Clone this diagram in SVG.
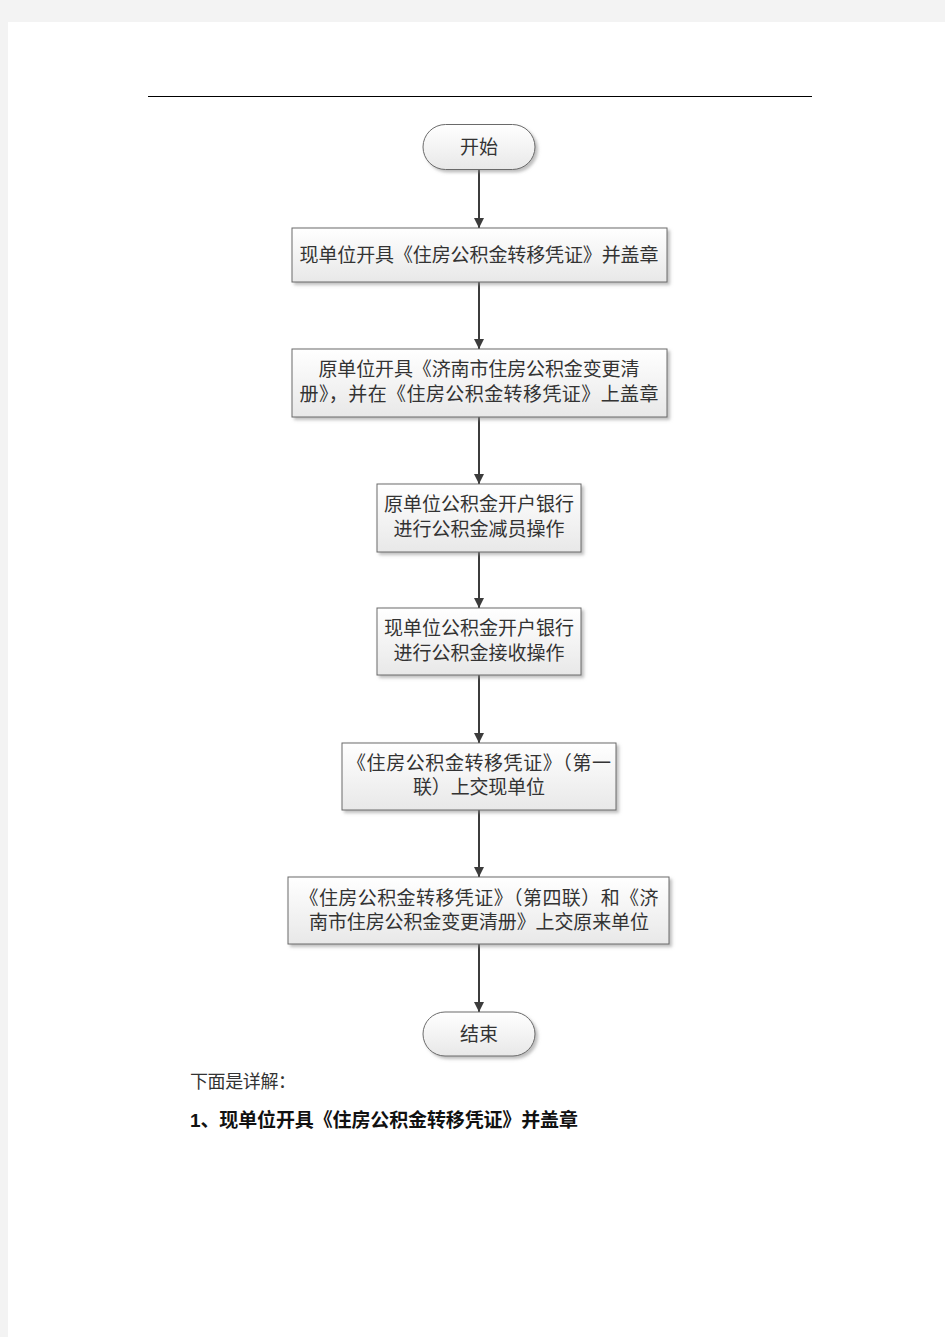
<svg xmlns="http://www.w3.org/2000/svg" width="945" height="1337" viewBox="0 0 945 1337">
<defs>
<linearGradient id="g" x1="0" y1="0" x2="0" y2="1">
<stop offset="0" stop-color="#ffffff"/>
<stop offset="1" stop-color="#e8e8e8"/>
</linearGradient>
<filter id="sh" x="-10%" y="-10%" width="130%" height="140%">
<feDropShadow dx="2.5" dy="2.5" stdDeviation="1.5" flood-color="#888" flood-opacity="0.55"/>
</filter>
<marker id="ah" viewBox="0 0 10 10" refX="10" refY="5" markerWidth="10" markerHeight="10" markerUnits="userSpaceOnUse" orient="auto">
<path d="M0,0 L10,5 L0,10 Z" fill="#3c3c3c"/>
</marker>
<style>
.box{fill:url(#g);stroke:#6a6a6a;stroke-width:1;filter:url(#sh)}
.t{font-family:"Liberation Serif","Noto Sans CJK SC",serif;font-size:19px;fill:#333;text-anchor:middle;dominant-baseline:central}
.c{stroke:#3c3c3c;stroke-width:2;fill:none;marker-end:url(#ah)}
</style>
</defs>
<rect x="0" y="0" width="945" height="1337" fill="#f3f3f3"/>
<rect x="8" y="22" width="937" height="1315" fill="#ffffff"/>
<line x1="148" y1="96.5" x2="812" y2="96.5" stroke="#000" stroke-width="1"/>
<g id="connectors">
<line class="c" x1="479" y1="170" x2="479" y2="228"/>
<line class="c" x1="479" y1="282" x2="479" y2="349"/>
<line class="c" x1="479" y1="417" x2="479" y2="484"/>
<line class="c" x1="479" y1="552" x2="479" y2="608"/>
<line class="c" x1="479" y1="675" x2="479" y2="743"/>
<line class="c" x1="479" y1="810" x2="479" y2="877"/>
<line class="c" x1="479" y1="944" x2="479" y2="1012"/>
</g>
<g id="start">
<rect class="box" x="423" y="124.5" width="112" height="45" rx="22.5"/>
<text class="t" x="479" y="147">开始</text>
</g>
<g id="step1">
<rect class="box" x="292" y="228" width="375" height="54"/>
<text class="t" x="479" y="255" textLength="359" lengthAdjust="spacing">现单位开具《住房公积金转移凭证》并盖章</text>
</g>
<g id="step2">
<rect class="box" x="292" y="349" width="375" height="68"/>
<text class="t" x="479" y="369" textLength="321" lengthAdjust="spacing">原单位开具《济南市住房公积金变更清</text>
<text class="t" x="479" y="394" textLength="359" lengthAdjust="spacing">册》，并在《住房公积金转移凭证》上盖章</text>
</g>
<g id="step3">
<rect class="box" x="377" y="484" width="204" height="68"/>
<text class="t" x="479" y="504">原单位公积金开户银行</text>
<text class="t" x="479" y="529">进行公积金减员操作</text>
</g>
<g id="step4">
<rect class="box" x="377" y="608" width="204" height="67"/>
<text class="t" x="479" y="628">现单位公积金开户银行</text>
<text class="t" x="479" y="653">进行公积金接收操作</text>
</g>
<g id="step5">
<rect class="box" x="342" y="743" width="274" height="67"/>
<text class="t" x="479" y="763" textLength="264" lengthAdjust="spacing">《住房公积金转移凭证》（第一</text>
<text class="t" x="479" y="787" textLength="132" lengthAdjust="spacing">联）上交现单位</text>
</g>
<g id="step6">
<rect class="box" x="288" y="877" width="381" height="67"/>
<text class="t" x="479" y="898" textLength="359" lengthAdjust="spacing">《住房公积金转移凭证》（第四联）和《济</text>
<text class="t" x="479" y="922" textLength="340" lengthAdjust="spacing">南市住房公积金变更清册》上交原来单位</text>
</g>
<g id="end">
<rect class="box" x="423" y="1012" width="112" height="44" rx="22"/>
<text class="t" x="479" y="1034">结束</text>
</g>
<text x="190" y="1082" font-family="Liberation Serif,'Noto Sans CJK SC',serif" font-size="18" fill="#333" dominant-baseline="central" textLength="106" lengthAdjust="spacing">下面是详解：</text>
<text x="190" y="1120" font-family="Liberation Sans,'Noto Sans CJK SC',sans-serif" font-size="19" font-weight="bold" fill="#111" dominant-baseline="central" textLength="388" lengthAdjust="spacing">1、现单位开具《住房公积金转移凭证》并盖章</text>
</svg>
